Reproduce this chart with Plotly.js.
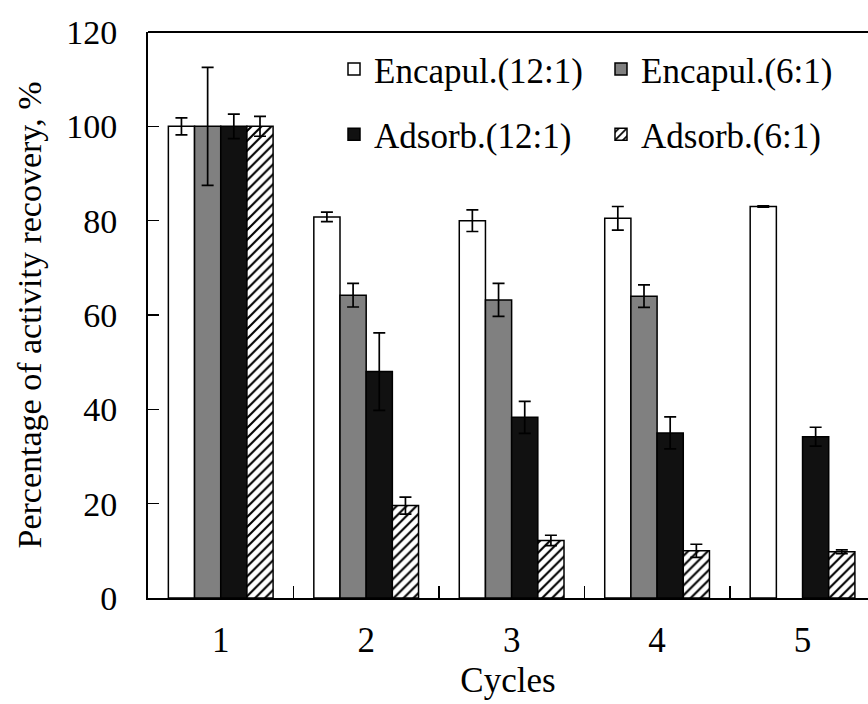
<!DOCTYPE html>
<html>
<head>
<meta charset="utf-8">
<script src="https://cdn.plot.ly/plotly-3.0.1.min.js"></script>
<style>html,body{margin:0;padding:0;background:#fff;}</style>
</head>
<body>
<div id="chart" style="width:868px;height:704px;"></div>
<script>
const cycles = ['1', '2', '3', '4', '5'];
const seriesNames = ['Encapul.(12:1)', 'Encapul.(6:1)', 'Adsorb.(12:1)', 'Adsorb.(6:1)'];
const encap12 = [100, 80.8, 80.0, 80.5, 83.0];
const encap12Err = [1.8, 1.0, 2.3, 2.5, 0.15];
const encap6 = [100, 64.2, 63.2, 64.0, null];
const encap6Err = [12.5, 2.5, 3.5, 2.4, null];
const adsorb12 = [100, 48.0, 38.3, 35.0, 34.2];
const adsorb12Err = [2.6, 8.2, 3.4, 3.4, 2.0];
const adsorb6 = [100, 19.6, 12.2, 10.0, 9.8];
const adsorb6Err = [2.1, 1.8, 1.1, 1.4, 0.4];
const yTicks = [0, 20, 40, 60, 80, 100, 120];

const font = 'Liberation Serif, Times New Roman, serif';
function err(a) {
  return {type: 'data', array: a, visible: true, color: '#000', thickness: 1.7, width: 6};
}
const lineStyle = {color: '#000', width: 1.5};
const traces = [
  {type: 'bar', name: seriesNames[0], x: cycles, y: encap12, error_y: err(encap12Err),
   marker: {color: '#ffffff', line: lineStyle}, legend: 'legend'},
  {type: 'bar', name: seriesNames[1], x: cycles, y: encap6, error_y: err(encap6Err),
   marker: {color: '#808080', line: lineStyle}, legend: 'legend'},
  {type: 'bar', name: seriesNames[2], x: cycles, y: adsorb12, error_y: err(adsorb12Err),
   marker: {color: '#111111', line: lineStyle}, legend: 'legend2'},
  {type: 'bar', name: seriesNames[3], x: cycles, y: adsorb6, error_y: err(adsorb6Err),
   marker: {color: '#ffffff', line: lineStyle,
            pattern: {shape: '/', fgcolor: '#000', bgcolor: '#fff', size: 7, solidity: 0.3}},
   legend: 'legend2'}
];

const legendCommon = {
  orientation: 'h', xanchor: 'right', yanchor: 'middle',
  font: {family: font, size: 35, color: '#000'},
  bgcolor: 'rgba(0,0,0,0)', entrywidth: 222, entrywidthmode: 'pixels',
  traceorder: 'normal'
};

const layout = {
  width: 868, height: 704,
  margin: {l: 148, r: 0, t: 32, b: 106},
  paper_bgcolor: '#fff', plot_bgcolor: '#fff',
  font: {family: font, color: '#000'},
  barmode: 'group', bargap: 0.28, bargroupgap: 0,
  showlegend: true,
  legend: Object.assign({}, legendCommon, {x: 1, y: 0.934}),
  legend2: Object.assign({}, legendCommon, {x: 1, y: 0.819}),
  xaxis: {
    type: 'category', range: [-0.5, 4.45],
    showline: true, linecolor: '#000', linewidth: 2,
    ticks: 'inside', tickson: 'boundaries', ticklen: 12, tickwidth: 1.5, tickcolor: '#000',
    showgrid: false, zeroline: false,
    tickfont: {family: font, size: 35, color: '#000'},
    ticklabelstandoff: 10,
    title: {text: 'Cycles', font: {family: font, size: 35, color: '#000'}, standoff: 8}
  },
  yaxis: {
    range: [0, 120], tickvals: yTicks, ticktext: yTicks.map(String),
    showline: true, linecolor: '#000', linewidth: 2,
    ticks: 'inside', ticklen: 11, tickwidth: 1.5, tickcolor: '#000',
    showgrid: false, zeroline: false,
    tickfont: {family: font, size: 34, color: '#000'},
    ticklabelstandoff: 22,
    title: {text: 'Percentage of activity recovery, %', font: {family: font, size: 34, color: '#000'}, standoff: 14}
  },
  shapes: [
    {type: 'line', xref: 'paper', yref: 'paper', x0: 0, x1: 1, y0: 1, y1: 1,
     line: {color: '#000', width: 2}}
  ]
};

Plotly.newPlot('chart', traces, layout, {displayModeBar: false, staticPlot: true});
</script>
</body>
</html>
